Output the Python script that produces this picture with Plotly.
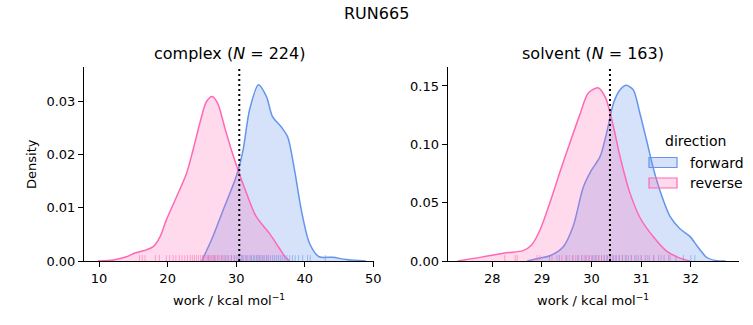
import plotly.graph_objects as go

# ---------------- data ----------------
complex_fwd_x = [25.0, 25.15, 26.4, 28.1, 30.0, 31.0, 31.95, 33.25, 34.4, 35.3, 36.55, 37.5, 38.5, 39.5, 40.7, 42.1, 44.05, 46.0, 48.9]
complex_fwd_d = [0.0, 0.0005, 0.0040, 0.0096, 0.0159, 0.0209, 0.0285, 0.0332, 0.0310, 0.0272, 0.0253, 0.0234, 0.0172, 0.0096, 0.0033, 0.0008, 0.0007, 0.0003, 0.0]

complex_rev_x = [9.8, 12.1, 14.0, 15.2, 16.9, 17.9, 18.9, 19.8, 21.3, 22.75, 23.7, 24.7, 25.65, 26.5, 27.3, 28.3, 29.3, 30.25, 31.5, 32.9, 34.85, 36.3, 37.3, 37.8]
complex_rev_d = [0.0, 0.0002, 0.0008, 0.0015, 0.0021, 0.0027, 0.0046, 0.0077, 0.0121, 0.0165, 0.0209, 0.0260, 0.0300, 0.0310, 0.0297, 0.0253, 0.0209, 0.0172, 0.0128, 0.0084, 0.0052, 0.0024, 0.0005, 0.0]

solvent_fwd_x = [28.7, 28.96, 29.16, 29.43, 29.63, 29.83, 30.0, 30.17, 30.3, 30.44, 30.57, 30.7, 30.84, 30.97, 31.11, 31.24, 31.38, 31.58, 31.78, 31.98, 32.15, 32.32, 32.52, 32.7]
solvent_fwd_d = [0.0, 0.0025, 0.0045, 0.0123, 0.0300, 0.0630, 0.0780, 0.0894, 0.1094, 0.1352, 0.1466, 0.1506, 0.1466, 0.1270, 0.1030, 0.0800, 0.0600, 0.0383, 0.0276, 0.0211, 0.0115, 0.0030, 0.0003, 0.0]

solvent_rev_x = [27.3, 27.75, 28.02, 28.29, 28.62, 28.79, 28.96, 29.16, 29.36, 29.56, 29.76, 29.93, 30.13, 30.28, 30.44, 30.57, 30.77, 30.99, 31.24, 31.51, 31.78, 31.98]
solvent_rev_d = [0.0, 0.0031, 0.0051, 0.0071, 0.0089, 0.0137, 0.0266, 0.0500, 0.0760, 0.1010, 0.1250, 0.1437, 0.1485, 0.1400, 0.1150, 0.0900, 0.0586, 0.0360, 0.0210, 0.0085, 0.0025, 0.0]

complex_fwd_rug = [25.2, 26.0, 26.8, 27.3, 27.9, 28.4, 28.8, 29.3, 29.7, 30.1, 30.5, 30.8, 31.1, 31.4, 31.7, 32.0, 32.2, 32.5, 32.7, 33.0, 33.2, 33.4, 33.6, 33.9, 34.1, 34.4, 34.7, 35.0, 35.3, 35.6, 35.9, 36.2, 36.5, 36.8, 37.1, 37.4, 37.8, 38.2, 38.6, 39.1, 39.7, 40.4, 40.8, 43.0]
complex_rev_rug = [15.9, 16.3, 16.7, 18.2, 18.8, 19.8, 20.3, 20.8, 21.2, 21.7, 22.1, 22.5, 22.9, 23.3, 23.6, 23.9, 24.2, 24.5, 24.8, 25.1, 25.3, 25.6, 25.8, 26.0, 26.2, 26.4, 26.6, 26.8, 27.0, 27.3, 27.6, 27.9, 28.2, 28.5, 28.9, 29.3, 29.8, 30.3, 30.9, 31.5, 32.2, 33.0, 33.8, 34.5]
solvent_fwd_rug = [29.15, 29.35, 29.5, 29.62, 29.72, 29.8, 29.88, 29.95, 30.02, 30.08, 30.14, 30.2, 30.26, 30.32, 30.38, 30.44, 30.5, 30.56, 30.62, 30.68, 30.74, 30.8, 30.87, 30.94, 31.0, 31.08, 31.16, 31.25, 31.35, 31.46, 31.58, 31.7, 31.85, 32.0, 32.08]
solvent_rev_rug = [28.25, 28.46, 28.5, 28.9, 28.96, 29.2, 29.3, 29.4, 29.48, 29.55, 29.62, 29.68, 29.74, 29.8, 29.85, 29.9, 29.95, 30.0, 30.05, 30.1, 30.15, 30.2, 30.25, 30.3, 30.36, 30.42, 30.48, 30.55, 30.62, 30.7, 30.8, 30.9, 31.0, 31.12, 31.25, 31.4, 31.55]

complex_vline = 30.45
solvent_vline = 30.37

complex_title = "complex (<i>N</i> = 224)"
solvent_title = "solvent (<i>N</i> = 163)"
suptitle = "RUN665"
xlabel = "work / kcal mol<sup>−1</sup>"
ylabel = "Density"
legend_title = "direction"
series_names = ["forward", "reverse"]

complex_xrange = [7.8, 50.1]
complex_yrange = [0, 0.0366]
complex_xticks = [10, 20, 30, 40, 50]
complex_yticks = [0.0, 0.01, 0.02, 0.03]
solvent_xrange = [27.1, 32.97]
solvent_yrange = [0, 0.1665]
solvent_xticks = [28, 29, 30, 31, 32]
solvent_yticks = [0.0, 0.05, 0.10, 0.15]

# ---------------- styling ----------------
BLUE = "rgb(100,149,237)"
BLUE_FILL = "rgba(100,149,237,0.27)"
BLUE_RUG = "rgba(100,149,237,0.55)"
PINK = "rgb(255,105,180)"
PINK_FILL = "rgba(255,105,180,0.25)"
PINK_RUG = "rgba(255,105,180,0.55)"
FONT = "DejaVu Sans"
W, H = 753, 325
LW = 1.5

fig = go.Figure()


def add_panel(xa, ya, fx, fd, rx, rd, frug, rrug, yr):
    fig.add_trace(go.Scatter(x=fx, y=fd, xaxis=xa, yaxis=ya, mode="lines", fill="tozeroy",
                             fillcolor=BLUE_FILL, line=dict(color=BLUE, width=LW, shape="spline", smoothing=0.8),
                             name=series_names[0], showlegend=False, hoverinfo="skip"))
    fig.add_trace(go.Scatter(x=rx, y=rd, xaxis=xa, yaxis=ya, mode="lines", fill="tozeroy",
                             fillcolor=PINK_FILL, line=dict(color=PINK, width=LW, shape="spline", smoothing=0.8),
                             name=series_names[1], showlegend=False, hoverinfo="skip"))
    ry = yr[1] * 0.0125
    fig.add_trace(go.Scatter(x=frug, y=[ry] * len(frug), xaxis=xa, yaxis=ya, mode="markers",
                             marker=dict(symbol="line-ns", size=5, line=dict(color=BLUE_RUG, width=1)),
                             showlegend=False, hoverinfo="skip"))
    fig.add_trace(go.Scatter(x=rrug, y=[ry] * len(rrug), xaxis=xa, yaxis=ya, mode="markers",
                             marker=dict(symbol="line-ns", size=5, line=dict(color=PINK_RUG, width=1)),
                             showlegend=False, hoverinfo="skip"))


add_panel("x", "y", complex_fwd_x, complex_fwd_d, complex_rev_x, complex_rev_d,
          complex_fwd_rug, complex_rev_rug, complex_yrange)
add_panel("x2", "y2", solvent_fwd_x, solvent_fwd_d, solvent_rev_x, solvent_rev_d,
          solvent_fwd_rug, solvent_rev_rug, solvent_yrange)

for xr, yr_, xv in (("x", "y", complex_vline), ("x2", "y2", solvent_vline)):
    fig.add_shape(type="line", xref=xr, yref=yr_ + " domain",
                  x0=xv, x1=xv, y0=0, y1=1, line=dict(color="black", width=2, dash="2px,3px"))

# legend drawn as patches + text (matplotlib style rectangular patches)
leg_rows_y = [162.5, 183]
for name, lc, fc, cy in zip(series_names, [BLUE, PINK], [BLUE_FILL, PINK_FILL], leg_rows_y):
    fig.add_shape(type="rect", xref="paper", yref="paper",
                  x0=649 / W, x1=677 / W, y0=1 - (cy + 5) / H, y1=1 - (cy - 5) / H,
                  fillcolor=fc, line=dict(color=lc, width=1.2), layer="above")
    fig.add_annotation(text=name, x=688 / W, y=1 - cy / H, xref="paper", yref="paper",
                       xanchor="left", yanchor="middle", showarrow=False,
                       font=dict(family=FONT, size=14, color="black"))
fig.add_annotation(text=legend_title, x=695 / W, y=1 - 141 / H, xref="paper", yref="paper",
                   xanchor="center", yanchor="middle", showarrow=False,
                   font=dict(family=FONT, size=14, color="black"))

ydom = [(H - 261) / H, (H - 66.7) / H]
axis_common = dict(showline=True, linecolor="black", linewidth=1.1, ticks="outside", ticklen=5,
                   tickwidth=1.1, tickcolor="black", showgrid=False, zeroline=False,
                   tickfont=dict(family=FONT, size=13, color="black"))

fig.update_layout(
    width=W, height=H, margin=dict(l=0, r=0, t=0, b=0, autoexpand=False),
    plot_bgcolor="white", paper_bgcolor="white",
    font=dict(family=FONT, color="black"),
    xaxis=dict(domain=[84 / W, 374 / W], range=complex_xrange, tickvals=complex_xticks, anchor="y", **axis_common),
    yaxis=dict(domain=ydom, range=complex_yrange, tickvals=complex_yticks, tickformat=".2f", anchor="x", **axis_common),
    xaxis2=dict(domain=[447.7 / W, 739 / W], range=solvent_xrange, tickvals=solvent_xticks, anchor="y2", **axis_common),
    yaxis2=dict(domain=ydom, range=solvent_yrange, tickvals=solvent_yticks, tickformat=".2f", anchor="x2", **axis_common),
    showlegend=False,
)

ann = [
    dict(text=suptitle, x=376 / W, y=1 - 13 / H, size=16),
    dict(text=complex_title, x=229 / W, y=1 - 54 / H, size=16),
    dict(text=solvent_title, x=593 / W, y=1 - 54 / H, size=16),
    dict(text=xlabel, x=229 / W, y=1 - 300 / H, size=13),
    dict(text=xlabel, x=593 / W, y=1 - 300 / H, size=13),
]
for a in ann:
    fig.add_annotation(text=a["text"], x=a["x"], y=a["y"], xref="paper", yref="paper",
                       xanchor="center", yanchor="middle", showarrow=False,
                       font=dict(family=FONT, size=a["size"], color="black"))
fig.add_annotation(text=ylabel, x=31 / W, y=1 - 164 / H, xref="paper", yref="paper", textangle=-90,
                   xanchor="center", yanchor="middle", showarrow=False,
                   font=dict(family=FONT, size=13, color="black"))

fig.write_html("out.html")
